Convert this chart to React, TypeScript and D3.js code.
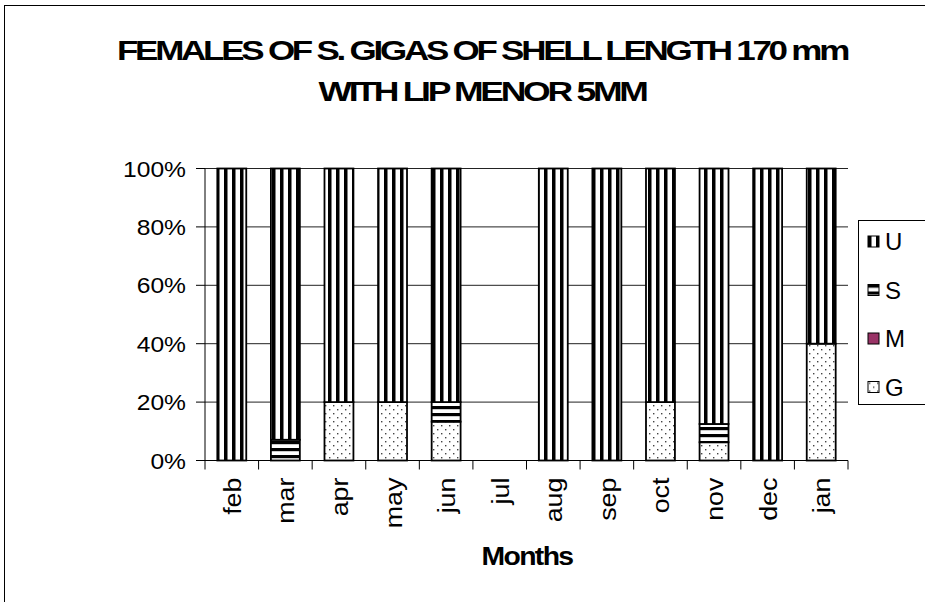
import React from 'react'
import {scaleBand, scaleLinear, stack} from 'd3'

const months = ['feb', 'mar', 'apr', 'may', 'jun', 'jul', 'aug', 'sep', 'oct', 'nov', 'dec', 'jan']
const gValues = [0, 0, 20, 20, 13.3, 0, 0, 0, 20, 6.25, 0, 40]
const mValues = [0, 0, 0, 0, 0, 0, 0, 0, 0, 0, 0, 0]
const sValues = [0, 7.1, 0, 0, 6.7, 0, 0, 0, 0, 6.25, 0, 0]
const uValues = [100, 92.9, 80, 80, 80, 0, 100, 100, 80, 87.5, 100, 60]
const seriesKeys = ['G', 'M', 'S', 'U']
const legendKeys = ['U', 'S', 'M', 'G']
const yTicks = [0, 20, 40, 60, 80, 100]
const titleLines = ['FEMALES OF S. GIGAS OF SHELL LENGTH 170 mm', 'WITH LIP MENOR 5MM']

const fills = {U: 'url(#pU)', S: 'url(#pS)', M: '#993366', G: 'url(#pG)'}

export default function App() {
  // plot area in page pixels
  const left = 205, right = 848, top = 168.5, bottom = 460.5

  const rows = months.map((m, i) => ({
    month: m, G: gValues[i], M: mValues[i], S: sValues[i], U: uValues[i]
  }))
  const layers = stack().keys(seriesKeys)(rows)

  const x = scaleBand().domain(months).range([left, right]).paddingInner(0.46).paddingOuter(0.23)
  const y = scaleLinear().domain([0, 100]).range([bottom, top])
  const step = x.step()

  const font = '"Liberation Sans", Arial, sans-serif'

  return (
    <svg width={925} height={602} style={{position: 'absolute', left: 0, top: 0}} fontFamily={font}>
      <defs>
        <pattern id="pU" width={8} height={8} patternUnits="userSpaceOnUse">
          <rect width={8} height={8} fill="#fff" />
          <rect x={0} width={3.5} height={8} fill="#000" />
        </pattern>
        <pattern id="pS" width={7} height={7} patternUnits="userSpaceOnUse">
          <rect width={7} height={7} fill="#fff" />
          <rect y={0} width={7} height={3.2} fill="#000" />
        </pattern>
        <pattern id="pG" width={8} height={8} patternUnits="userSpaceOnUse">
          <rect width={8} height={8} fill="#fff" />
          <rect x={1} y={1} width={1.4} height={1.4} fill="#444" />
          <rect x={5} y={5} width={1.4} height={1.4} fill="#444" />
        </pattern>
      </defs>

      <rect x={0} y={0} width={925} height={602} fill="#fff" />
      <rect x={4.5} y={5.5} width={1000} height={1000} fill="#fff" stroke="#000" />

      {/* title, squeezed like the original */}
      <text x={482} y={60} textAnchor="middle" fontWeight="bold" fontSize={27} letterSpacing={-2.5}
        textLength={730} lengthAdjust="spacingAndGlyphs">{titleLines[0]}</text>
      <text x={482} y={101} textAnchor="middle" fontWeight="bold" fontSize={27} letterSpacing={-2.5}
        textLength={327} lengthAdjust="spacingAndGlyphs">{titleLines[1]}</text>

      {/* gridlines */}
      {yTicks.filter(t => t > 0).map(t => (
        <line key={t} x1={left} x2={right} y1={y(t)} y2={y(t)} stroke="#222" strokeWidth={1} />
      ))}

      {/* bars */}
      {layers.map(layer => (
        <g key={layer.key}>
          {layer.map((d, i) => d[1] - d[0] > 0 ? (
            <rect key={i} x={x(months[i])} y={y(d[1])} width={x.bandwidth()} height={y(d[0]) - y(d[1])}
              fill={fills[layer.key]} stroke="#000" strokeWidth={1.8} />
          ) : null)}
        </g>
      ))}

      {/* y axis */}
      <line x1={left} x2={left} y1={top} y2={bottom} stroke="#000" />
      {yTicks.map(t => (
        <g key={t}>
          <line x1={left - 9} x2={left} y1={y(t)} y2={y(t)} stroke="#000" />
          <text transform={`translate(186,${y(t) + 8}) scale(1.12,1)`} textAnchor="end" fontSize={22}>{t}%</text>
        </g>
      ))}

      {/* x axis */}
      <line x1={left} x2={right} y1={bottom} y2={bottom} stroke="#000" />
      {months.map((m, i) => (
        <line key={'t' + i} x1={left + step * (i + 1)} x2={left + step * (i + 1)} y1={bottom} y2={bottom + 9} stroke="#000" />
      ))}
      <line x1={left} x2={left} y1={bottom} y2={bottom + 9} stroke="#000" />
      {months.map(m => (
        <text key={m} transform={`translate(${x(m) + x.bandwidth() / 2 + 9},${bottom + 17}) rotate(-90) scale(1.12,1)`}
          textAnchor="end" fontSize={24}>{m}</text>
      ))}

      <text x={527} y={565} textAnchor="middle" fontWeight="bold" fontSize={26} letterSpacing={-1.5}
        textLength={91} lengthAdjust="spacingAndGlyphs">Months</text>

      {/* legend */}
      <rect x={858.5} y={220.5} width={100} height={184} fill="#fff" stroke="#000" />
      {legendKeys.map((k, i) => (
        <g key={k} transform={`translate(868,${236 + i * 48.5})`}>
          <rect x={0} y={0} width={11} height={11} fill={fills[k]} stroke="#000" strokeWidth={1} />
          <text x={17} y={14} fontSize={24}>{k}</text>
        </g>
      ))}
    </svg>
  )
}
